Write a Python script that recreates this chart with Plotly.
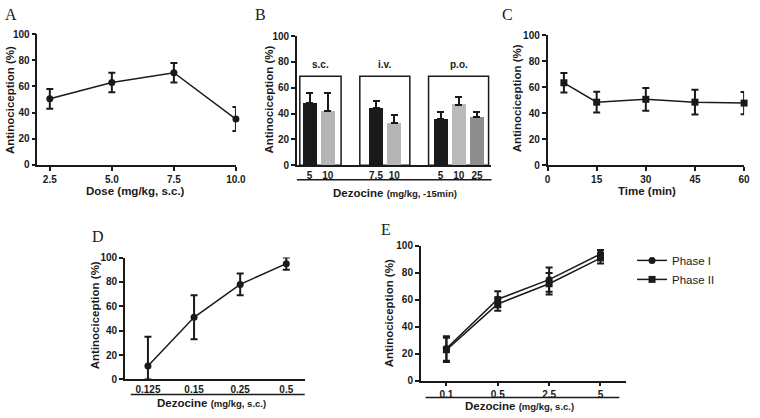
import plotly.graph_objects as go

W, H = 760, 418

# ---- data ----
# A: dose response, s.c.
a_dose = [2.5, 5.0, 7.5, 10.0]
a_mean = [50.5, 63, 70.5, 35]
a_err = [7.5, 7.5, 7.4, 9.2]

# B: routes of administration
b_route = ["s.c.", "s.c.", "i.v.", "i.v.", "p.o.", "p.o.", "p.o."]
b_dose = ["5", "10", "7.5", "10", "5", "10", "25"]
b_mean = [48.5, 42, 44, 33, 35.5, 47, 37]
b_err = [7.5, 14, 6, 6, 5.5, 5.5, 4]
b_groups = ["s.c.", "i.v.", "p.o."]
b_box_top = 69

# C: time course
c_time = [5, 15, 30, 45, 60]
c_mean = [63.4, 48.5, 50.7, 48.5, 47.8]
c_err = [7.5, 8, 8.7, 9.5, 8.5]

# D
d_dose = ["0.125", "0.15", "0.25", "0.5"]
d_mean = [11, 51, 78, 95]
d_err = [24, 18, 9, 5]

# E: formalin phases
e_dose = ["0.1", "0.5", "2.5", "5"]
e_phase1 = [24, 60.5, 75, 94]
e_phase1_err = [9, 6, 9, 3]
e_phase2 = [23, 57, 72, 91]
e_phase2_err = [9, 5, 8, 4]

# ---- layout helpers (pixel positions in the page) ----
def px(x):
    return x / W

def py(y):
    return 1 - y / H

def xd(a, b):
    return [px(a), px(b)]

def yd(top, bottom):
    return [py(bottom), py(top)]

FONT = "Liberation Sans, Arial, sans-serif"
SERIF = "Liberation Serif, Times New Roman, serif"
BLACK = "#1a1a1a"

fig = go.Figure()

def err(vals, minus=None):
    d = dict(type="data", array=vals, color=BLACK, thickness=2, width=3.5)
    if minus is not None:
        d["symmetric"] = False
        d["arrayminus"] = minus
    return d

# A
fig.add_trace(go.Scatter(x=a_dose, y=a_mean, error_y=err(a_err), mode="lines+markers",
                         line=dict(color=BLACK, width=1.5),
                         marker=dict(symbol="circle", size=7, color=BLACK),
                         xaxis="x", yaxis="y", showlegend=False, cliponaxis=False))

# B
b_pos = [0, 1, 3.65, 4.65, 7.2, 8.2, 9.2]
b_colors = [BLACK, "#b5b5b5", BLACK, "#b5b5b5", BLACK, "#bababa", "#8e8e8e"]
fig.add_trace(go.Bar(x=b_pos, y=b_mean, width=0.76, marker=dict(color=b_colors, line=dict(width=0)),
                     error_y=err(b_err, [0] * len(b_err)),
                     xaxis="x2", yaxis="y2", showlegend=False))

# C
fig.add_trace(go.Scatter(x=c_time, y=c_mean, error_y=err(c_err), mode="lines+markers",
                         line=dict(color=BLACK, width=1.5),
                         marker=dict(symbol="square", size=7, color=BLACK),
                         xaxis="x3", yaxis="y3", showlegend=False, cliponaxis=False))

# D
fig.add_trace(go.Scatter(x=d_dose, y=d_mean,
                         error_y=err(d_err, [min(e, m) for e, m in zip(d_err, d_mean)]),
                         mode="lines+markers", line=dict(color=BLACK, width=1.5),
                         marker=dict(symbol="circle", size=7, color=BLACK),
                         xaxis="x4", yaxis="y4", showlegend=False, cliponaxis=False))

# E
fig.add_trace(go.Scatter(x=e_dose, y=e_phase1, error_y=err(e_phase1_err), mode="lines+markers",
                         name="Phase I", line=dict(color=BLACK, width=1.5),
                         marker=dict(symbol="circle", size=7, color=BLACK),
                         xaxis="x5", yaxis="y5"))
fig.add_trace(go.Scatter(x=e_dose, y=e_phase2, error_y=err(e_phase2_err), mode="lines+markers",
                         name="Phase II", line=dict(color=BLACK, width=1.5),
                         marker=dict(symbol="square", size=7, color=BLACK),
                         xaxis="x5", yaxis="y5"))

tickfont = dict(family=FONT, size=10, color=BLACK, weight="bold")
ax = dict(showline=True, linecolor=BLACK, linewidth=1.5, showgrid=False, zeroline=False,
          tickfont=tickfont, ticks="outside", ticklen=4, tickwidth=1.5, tickcolor=BLACK)
yax = dict(ax, range=[0, 100], tickvals=[0, 20, 40, 60, 80, 100])

layout = dict(
    width=W, height=H, margin=dict(l=0, r=0, t=0, b=0),
    paper_bgcolor="white", plot_bgcolor="white",
    xaxis=dict(ax, domain=xd(35, 237), range=[2.0, 10.0], tickvals=a_dose,
               ticktext=["%.1f" % v for v in a_dose], anchor="y"),
    yaxis=dict(yax, domain=yd(29, 163.5), anchor="x"),
    xaxis2=dict(ax, domain=xd(299, 497), range=[-0.7, 10.0], tickvals=b_pos, ticktext=b_dose,
                ticks="", anchor="y2"),
    yaxis2=dict(yax, domain=yd(31, 164), anchor="x2"),
    xaxis3=dict(ax, domain=xd(554, 754), range=[0, 60], tickvals=[0, 15, 30, 45, 60], anchor="y3"),
    yaxis3=dict(yax, domain=yd(30, 164), anchor="x3"),
    xaxis4=dict(ax, domain=xd(124, 307), range=[-0.5, 3.4], ticks="", anchor="y4",
                type="category"),
    yaxis4=dict(yax, domain=yd(259, 384.5), anchor="x4"),
    xaxis5=dict(ax, domain=xd(425, 634), range=[-0.5, 3.5], ticklen=3, anchor="y5",
                type="category"),
    yaxis5=dict(yax, domain=yd(247, 386), anchor="x5"),
    legend=dict(x=px(640), y=py(247), xanchor="left", yanchor="top",
                font=dict(family=FONT, size=11.5, color=BLACK), itemwidth=30,
                bgcolor="rgba(0,0,0,0)", tracegroupgap=0),
    bargap=0,
)
fig.update_layout(**layout)

shapes = []
# group boxes in B
b_box = {"s.c.": (-0.54, 1.73), "i.v.": (2.76, 5.51), "p.o.": (6.54, 9.84)}
for g in b_groups:
    x0, x1 = b_box[g]
    shapes.append(dict(type="rect", xref="x2", yref="y2", x0=x0, x1=x1, y0=0, y1=b_box_top,
                       line=dict(color=BLACK, width=1.5), layer="below"))
# underlines below tick labels
for x0, x1, y in [(299, 497, 179), (130, 307, 400), (430, 627, 403)]:
    shapes.append(dict(type="line", xref="paper", yref="paper", x0=px(x0), x1=px(x1),
                       y0=py(y), y1=py(y), line=dict(color=BLACK, width=1.5)))
fig.update_layout(shapes=shapes)

ann = []

def text(x, y, s, size=11, angle=0, family=FONT, weight="bold"):
    ann.append(dict(x=px(x), y=py(y), xref="paper", yref="paper", text=s, showarrow=False,
                    xanchor="center", yanchor="middle", textangle=angle,
                    font=dict(family=family, size=size, color=BLACK, weight=weight)))

# panel letters
for lbl, x, y in [("A", 8, 9), ("B", 262, 9), ("C", 513, 9), ("D", 97, 237), ("E", 390, 230)]:
    text(x, y, lbl, size=16, family=SERIF, weight="normal")

# y titles
for x, y in [(7, 97), (271, 96), (523, 95), (93, 318), (393, 316)]:
    text(x, y, "Antinociception (%)", size=11.5, angle=-90)

# x titles
text(135, 190, "Dose (mg/kg, s.c.)", size=11.5)
text(399, 193, "Dezocine <span style='font-size:9.5px'>(mg/kg, -15min)</span>", size=11.5)
text(655, 190, "Time (min)", size=11.5)
text(212, 409, "Dezocine <span style='font-size:9.5px'>(mg/kg, s.c.)</span>", size=11.5)
text(525, 412, "Dezocine <span style='font-size:9.5px'>(mg/kg, s.c.)</span>", size=11.5)

fig.update_layout(annotations=ann)
# group labels in B
for g in b_groups:
    x0, x1 = b_box[g]
    fig.add_annotation(x=(x0 + x1) / 2, y=b_box_top + 3, xref="x2", yref="y2", text=g,
                       showarrow=False, yanchor="bottom",
                       font=dict(family=FONT, size=10, color=BLACK, weight="bold"))

# drop the default page margin so the figure fills the window exactly
fig.write_html("out.html", post_script="document.body.style.margin='0';",
               config={"displayModeBar": False})
